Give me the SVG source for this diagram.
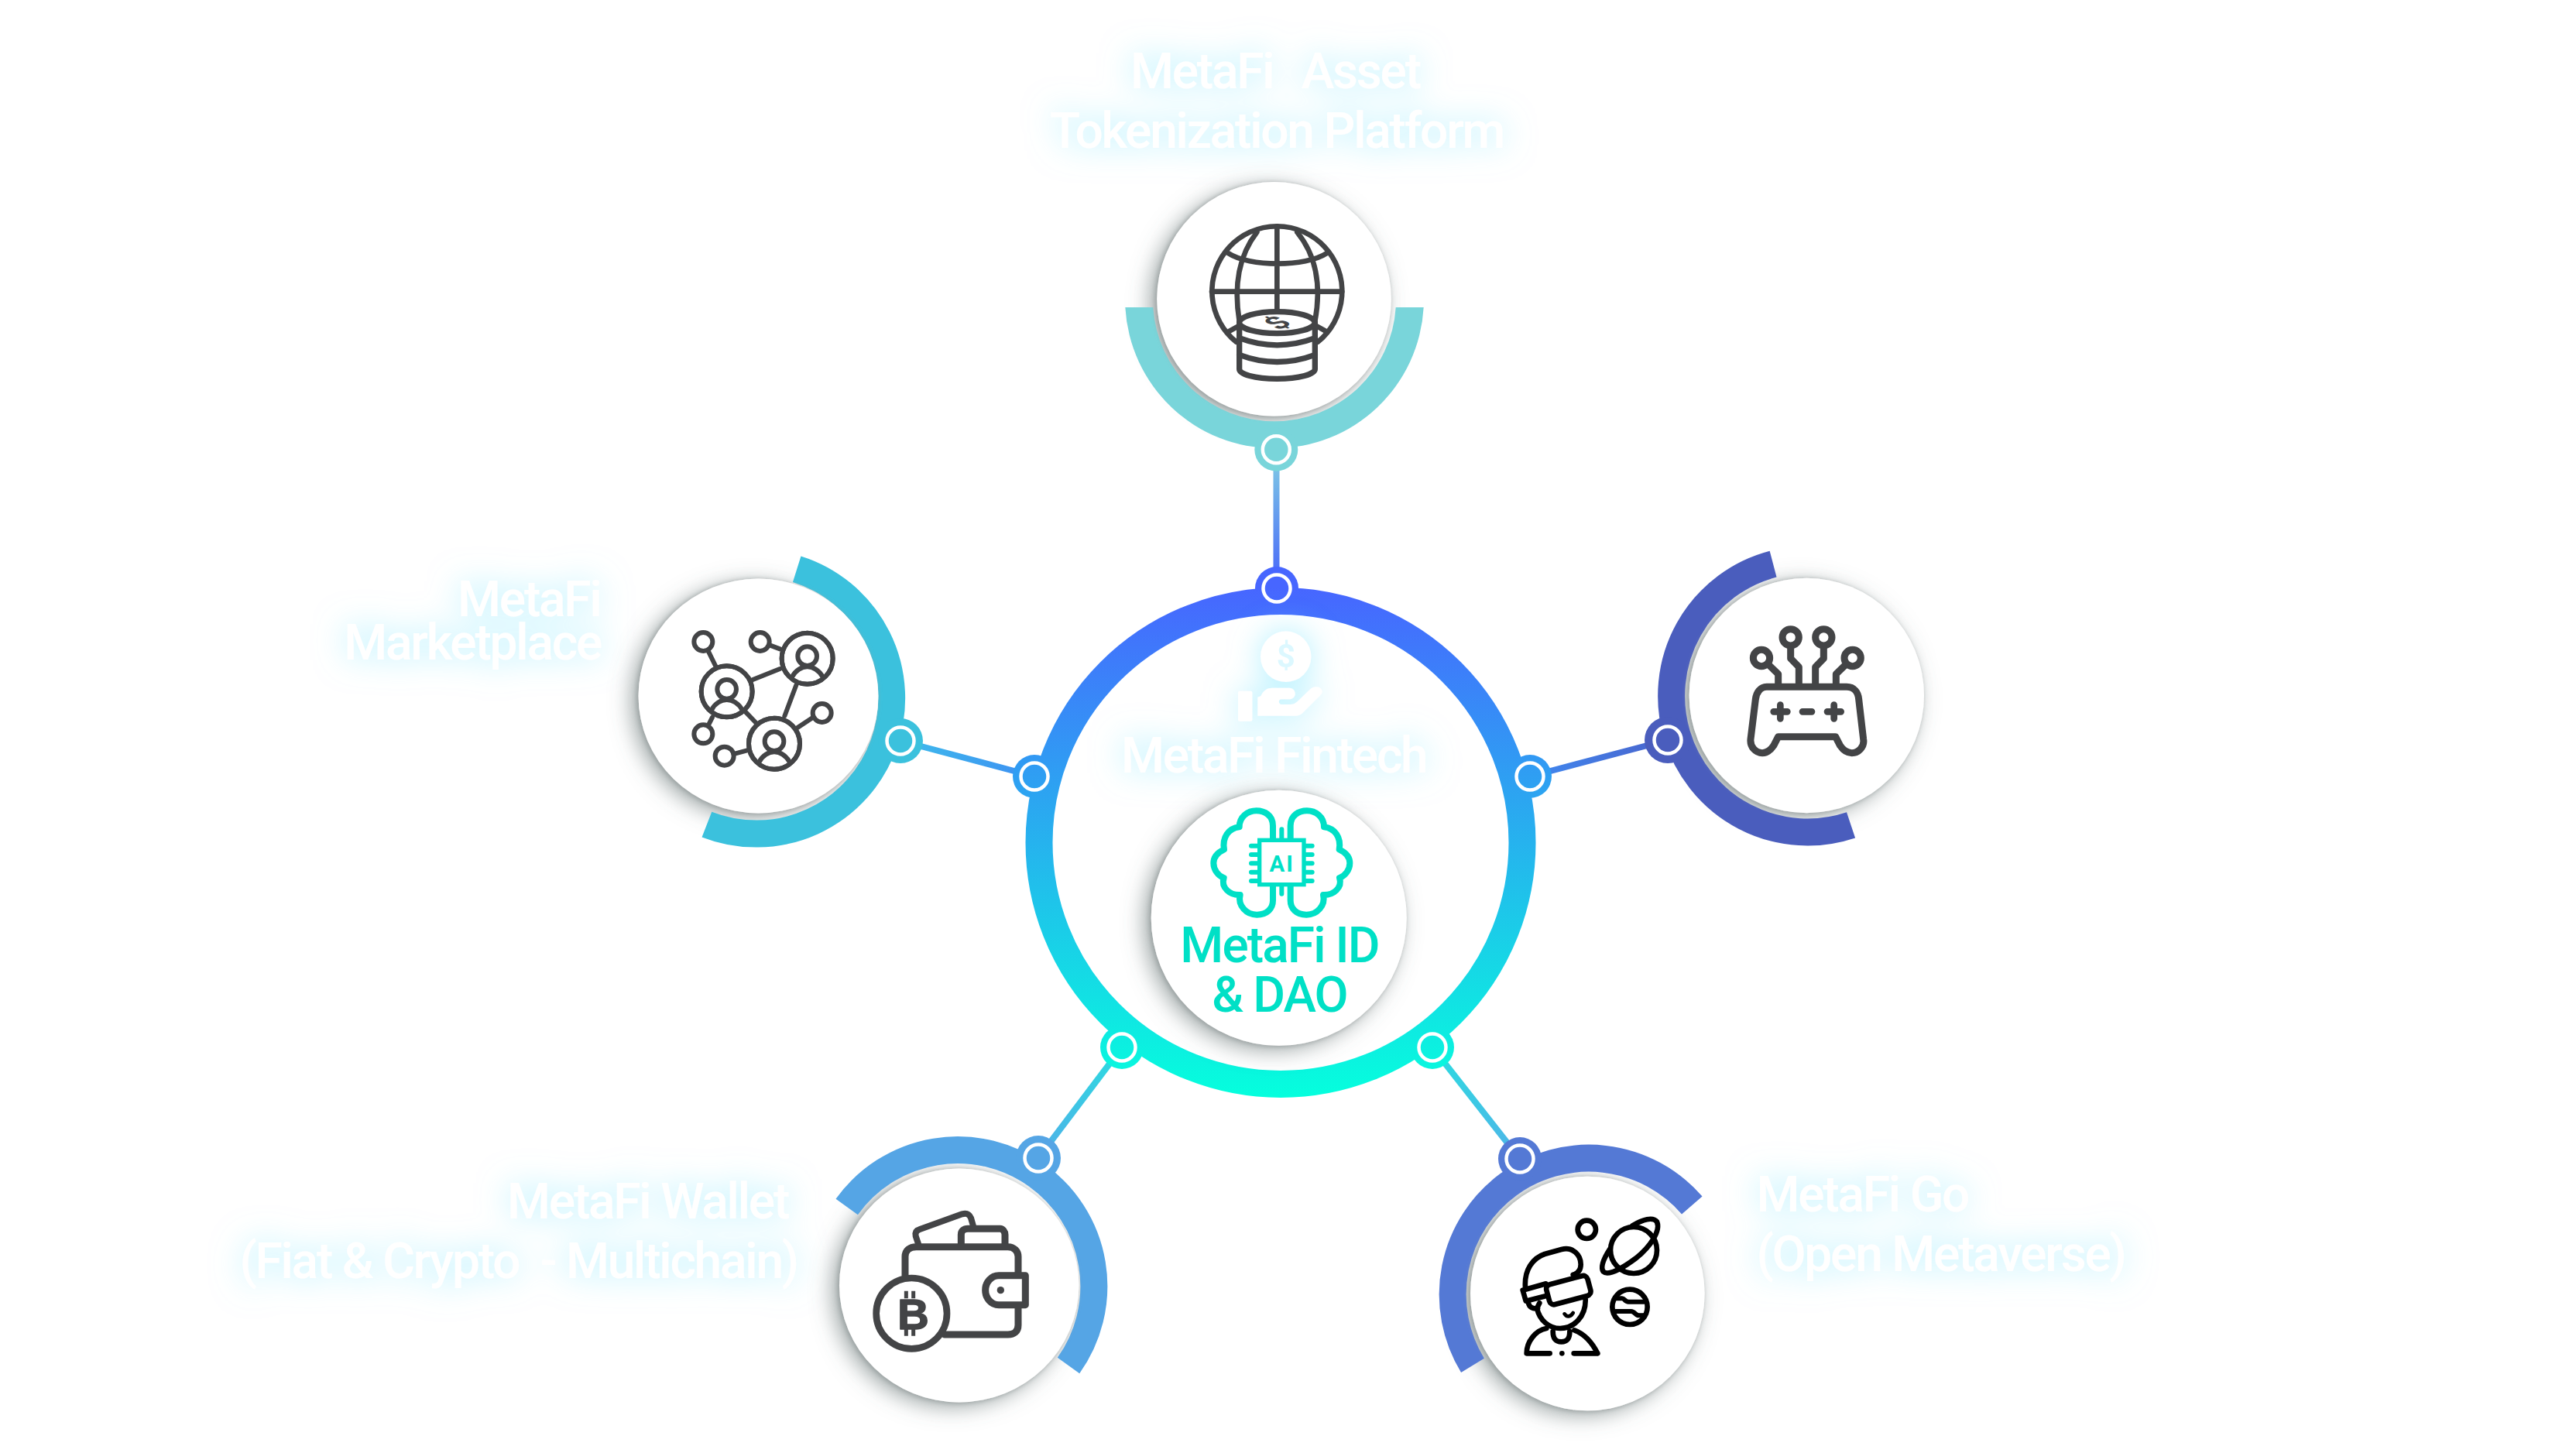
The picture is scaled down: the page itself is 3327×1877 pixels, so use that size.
<svg xmlns="http://www.w3.org/2000/svg" width="3327" height="1877" viewBox="0 0 3327 1877">
<style>
.label{font-family:Roboto,"Liberation Sans",sans-serif;font-size:64px;fill:#fff;font-weight:500;letter-spacing:-2.2px;white-space:pre}
.center{font-family:Roboto,"Liberation Sans",sans-serif;font-size:64px;fill:#00e0c6;font-weight:500;letter-spacing:-1.9px;text-anchor:middle}
.under{fill:#fff;filter:url(#shadow)}
.disc{fill:#fff;filter:url(#rim)}
.ico{fill:none;stroke:#434446;stroke-linecap:round;stroke-linejoin:round}
.vr{fill:none;stroke:#000;stroke-width:20;stroke-linecap:round;stroke-linejoin:round}
.brain{fill:none;stroke:#00e0c6;stroke-linecap:round;stroke-linejoin:round}
.arc{fill:none;stroke-width:35}
.pin{fill:none;stroke-width:8}
.ring{fill:none;stroke:#fff;stroke-width:4.5}
</style>
<defs>
<linearGradient id="mainGrad" gradientUnits="userSpaceOnUse" x1="0" y1="759" x2="0" y2="1418"><stop offset="0" stop-color="#4766ff"/><stop offset="1" stop-color="#05ffdd"/></linearGradient>
<linearGradient id="cT" gradientUnits="userSpaceOnUse" x1="1648" y1="600" x2="1648" y2="745"><stop offset="0" stop-color="#7cc5e6"/><stop offset="1" stop-color="#4a6bf8"/></linearGradient>
<linearGradient id="cL" gradientUnits="userSpaceOnUse" x1="1163" y1="957" x2="1336" y2="1003"><stop offset="0" stop-color="#3ebcec"/><stop offset="1" stop-color="#3d8ef2"/></linearGradient>
<linearGradient id="cR" gradientUnits="userSpaceOnUse" x1="2154" y1="956" x2="1976" y2="1003"><stop offset="0" stop-color="#4a64cc"/><stop offset="1" stop-color="#3f88f0"/></linearGradient>
<linearGradient id="cBL" gradientUnits="userSpaceOnUse" x1="1341" y1="1496" x2="1449" y2="1353"><stop offset="0" stop-color="#4fb0e8"/><stop offset="1" stop-color="#2bdce0"/></linearGradient>
<linearGradient id="cBR" gradientUnits="userSpaceOnUse" x1="1963" y1="1497" x2="1850" y2="1353"><stop offset="0" stop-color="#4fb4e8"/><stop offset="1" stop-color="#2bdce0"/></linearGradient>
<filter id="shadow" x="-25%" y="-25%" width="150%" height="150%">
<feDropShadow dx="-9" dy="6" stdDeviation="14" flood-color="#5f6c6c" flood-opacity=".6"/>
</filter>
<filter id="rim" x="-10%" y="-10%" width="120%" height="120%">
<feDropShadow dx="-2" dy="1" stdDeviation="3" flood-color="#979f9f" flood-opacity=".9"/>
</filter>
<filter id="glow" x="-30%" y="-80%" width="160%" height="260%">
<feGaussianBlur in="SourceAlpha" stdDeviation="20" result="b"/>
<feFlood flood-color="#7de6ff" flood-opacity=".62"/>
<feComposite in2="b" operator="in" result="g"/>
<feMerge><feMergeNode in="g"/><feMergeNode in="SourceGraphic"/></feMerge>
</filter>
<g id="person">
<circle r="99" fill="#fff"/><circle r="99"/><circle cy="-9" r="37"/>
<path d="M-59,72C-46,45-21,32 0,32C21,32 46,45 60,72"/>
</g>
</defs>
<rect width="3327" height="1877" fill="#fff"/>

<g id="connectors">
<line class="pin" x1="1648.5" y1="600" x2="1648.5" y2="745" stroke="url(#cT)"/>
<line class="pin" x1="1163" y1="957" x2="1336" y2="1003" stroke="url(#cL)"/>
<line class="pin" x1="2154" y1="956" x2="1976" y2="1003" stroke="url(#cR)"/>
<line class="pin" x1="1341" y1="1496" x2="1449" y2="1353" stroke="url(#cBL)"/>
<line class="pin" x1="1963" y1="1497" x2="1850" y2="1353" stroke="url(#cBR)"/>
</g>

<g id="main-ring">
<circle cx="1654" cy="1088.5" r="312" class="arc" stroke="url(#mainGrad)"/>
<g fill="url(#mainGrad)">
<circle cx="1649" cy="760" r="28"/><circle cx="1336" cy="1003" r="28"/><circle cx="1976" cy="1003" r="28"/><circle cx="1449" cy="1353" r="28"/><circle cx="1850" cy="1353" r="28"/>
</g>
<circle class="ring" cx="1649" cy="760" r="17.5"/><circle class="ring" cx="1336" cy="1003" r="17.5"/><circle class="ring" cx="1976" cy="1003" r="17.5"/><circle class="ring" cx="1449" cy="1353" r="17.5"/><circle class="ring" cx="1850" cy="1353" r="17.5"/>
</g>

<g id="node-fintech">
<g filter="url(#glow)">
<circle cx="1660.7" cy="848.3" r="32.7" fill="#fff"/>
<rect x="1599" y="892.7" width="18.3" height="39" rx="2" fill="#fff"/>
<g transform="translate(1440,780) scale(.33333)"><path fill="#fff" d="M553,362L565,358C575,335 590,326 610,326L675,326C692,326 700,340 698,352C696,365 685,370 675,370L645,370C632,370 632,390 645,390L680,390C692,390 700,385 708,378L760,328C775,318 795,320 802,335C805,345 800,350 790,360L725,425C715,433 705,434 695,434L553,434Z"/></g>
<text class="label" x="1448" y="998">MetaFi Fintech</text>
</g>
<text x="1660.7" y="862" text-anchor="middle" font-family="Roboto,sans-serif" font-weight="700" font-size="42" fill="#dcf8ff">$</text>
</g>

<g id="node-id">
<circle class="under" cx="1651.7" cy="1185.8" r="165"/>
<circle class="disc" cx="1651.7" cy="1185.8" r="165"/>
<g transform="translate(1480,1010) scale(.33333)">
<path class="brain" stroke-width="24" d="M492,222L492,170C492,130 460,112 428,112C395,112 362,135 362,175C320,180 295,215 303,262C275,275 262,295 262,315C262,340 280,365 302,372C290,410 325,440 365,438C355,480 390,515 430,515C470,515 492,490 492,460L492,405"/>
<path class="brain" stroke-width="24" d="M560,222L560,170C560,130 592,112 624,112C657,112 690,135 690,175C732,180 757,215 749,262C777,275 790,295 790,315C790,340 772,365 750,372C762,410 727,440 687,438C697,480 662,515 622,515C582,515 560,490 560,460L560,405"/>
<rect x="440" y="226" width="172" height="172" fill="#fff" stroke="#00e0c6" stroke-width="16"/>
<path class="brain" stroke-width="18" d="M408,248H432M408,282H432M408,316H432M408,350H432M408,384H432M620,248H644M620,282H644M620,316H644M620,350H644M620,384H644M526,184V218M526,405V434"/>
<text x="527" y="348" text-anchor="middle" font-family="Roboto,sans-serif" font-weight="700" font-size="88" letter-spacing="6" fill="#00e0c6">AI</text>
</g>
<text class="center" x="1652.5" y="1242.7">MetaFi ID</text>
<text class="center" x="1652.5" y="1306.7">&amp; DAO</text>
</g>

<g id="node-asset">
<g filter="url(#glow)">
<text class="label" x="1460" y="113.5">MetaFi  <tspan dx="9">Asset</tspan></text>
<text class="label" x="1356" y="190.5">Tokenization Platform</text>
</g>
<circle class="under" cx="1645.5" cy="386.3" r="151.3"/>
<path d="M1453.3,397A193,193 0 0 0 1838.7,397L1802.7,397A157,157 0 0 1 1489.3,397Z" fill="#79d5da"/>
<circle class="disc" cx="1645.5" cy="386.3" r="151.3"/>
<g transform="translate(1440,220) scale(.33333)" class="ico" stroke-width="20">
<path d="M470,665A252,252 0 1 1 786,665"/>
<path d="M628,218V545M375,470H880M440,322C520,375 740,375 820,322M550,240C480,330 460,450 482,585M706,240C780,330 800,450 775,585M440,625L482,602M820,625L778,602"/>
<path fill="#fff" stroke-width="22" d="M482,590L482,770C482,790 540,808 628,808C715,808 775,790 775,770L775,590Z"/>
<ellipse cx="628" cy="590" rx="146" ry="42" fill="#fff" stroke-width="22"/>
<path stroke-width="22" d="M482,650Q628,705 775,650M482,715Q628,770 775,715"/>
<text transform="translate(628,590) scale(1,.5) rotate(-45)" y="48" text-anchor="middle" font-family="Roboto,sans-serif" font-weight="700" font-size="135" fill="#434446" stroke="none">$</text>
</g>
<circle cx="1648.3" cy="580.7" r="28" fill="#79d5da"/><circle class="ring" cx="1648.3" cy="580.7" r="17.5"/>
</g>

<g id="node-marketplace">
<g filter="url(#glow)">
<text class="label" x="775.5" y="796" text-anchor="end">MetaFi</text>
<text class="label" x="776" y="851.7" text-anchor="end">Marketplace</text>
</g>
<ellipse class="under" cx="979.5" cy="899" rx="155" ry="151.5"/>
<path d="M1029.2,735.2A175,175 0 1 1 912.9,1065.1" class="arc" stroke="#3bc1dd"/>
<ellipse class="disc" cx="979.5" cy="899" rx="155" ry="151.5"/>
<g transform="translate(800,710) scale(.33333)" class="ico" stroke-width="18">
<path d="M345,395L372,450M582,370L622,385M515,505L622,462M685,525L640,645M485,625L530,672M690,690L750,650M450,790L495,778M360,650L345,680"/>
<circle cx="325" cy="357" r="36" fill="#fff"/><circle cx="545" cy="357" r="36" fill="#fff"/><circle cx="785" cy="633" r="36" fill="#fff"/><circle cx="325" cy="715" r="36" fill="#fff"/><circle cx="407" cy="800" r="36" fill="#fff"/>
<use href="#person" x="416" y="550"/><use href="#person" x="728" y="422"/><use href="#person" x="600" y="752"/>
</g>
<circle cx="1163" cy="957" r="29" fill="#3bc1dd"/><circle class="ring" cx="1163" cy="957" r="17.5"/>
</g>

<g id="node-game">
<circle class="under" cx="2333.3" cy="898.5" r="151.7"/>
<path d="M2290.09,728.68A176,176 0 1 0 2390.56,1065.83" class="arc" stroke="#4a5dbd"/>
<circle class="disc" cx="2333.3" cy="898.5" r="151.7"/>
<g transform="translate(2100,680) scale(.33333)" class="ico" stroke-width="27">
<path d="M525,510L590,572V622M638,430V512L670,545V622M766,430V512L734,545V622M878,510L814,572V622"/>
<circle cx="525" cy="510" r="32" fill="#fff"/><circle cx="638" cy="430" r="32" fill="#fff"/><circle cx="766" cy="430" r="32" fill="#fff"/><circle cx="878" cy="510" r="32" fill="#fff"/>
<path d="M545,622L855,622C885,622 900,645 902,670L920,825C925,855 900,878 875,878C855,878 840,865 830,850L812,815L590,815L572,850C562,865 548,878 528,878C503,878 480,855 483,825L502,670C505,645 520,622 545,622Z" fill="#fff"/>
<path stroke-width="26" d="M572,718H625M598,692V745M684,718H720M780,718H833M806,692V745"/>
</g>
<circle cx="2154" cy="956" r="30" fill="#4a5dbd"/><circle class="ring" cx="2154" cy="956" r="17.5"/>
</g>

<g id="node-wallet">
<g filter="url(#glow)">
<text class="label" x="1018" y="1574" text-anchor="end">MetaFi Wallet</text>
<text class="label" x="1030" y="1650.7" text-anchor="end">(Fiat &amp; Crypto  - Multichain)</text>
</g>
<ellipse class="under" cx="1238.7" cy="1660.5" rx="154.7" ry="151"/>
<path d="M1093.7,1559A176,176 0 0 1 1380,1764" class="arc" stroke="#55a5e5"/>
<ellipse class="disc" cx="1238.7" cy="1660.5" rx="154.7" ry="151"/>
<g transform="translate(1060,1460) scale(.33333)" class="ico" stroke-width="27">
<path stroke-width="24" d="M378,440L368,410C365,395 372,388 382,385L548,325C565,320 575,325 582,340L592,375"/>
<path d="M544,440V405C544,390 555,382 570,382H695C705,382 714,392 714,405V440"/>
<path d="M327,565V490C327,465 345,452 370,452H725C750,452 765,470 765,490V555M765,690V755C765,780 750,792 725,792H480"/>
<path fill="#fff" d="M793,563H690C660,563 638,590 638,620C638,650 660,677 690,677H793Z"/>
<circle cx="697" cy="620" r="14" fill="#434446" stroke="none"/>
<circle cx="352" cy="710" r="137" fill="#fff" stroke-width="26"/>
<text x="298" y="770" font-family="Liberation Sans,sans-serif" font-weight="700" font-size="168" fill="#434446" stroke="#434446" stroke-width="5">B</text>
<path stroke-linecap="butt" stroke-width="15" d="M331,623V652M359,623V652M331,768V797M359,768V797"/>
</g>
<circle cx="1341" cy="1496" r="29" fill="#55a5e5"/><circle class="ring" cx="1341" cy="1496" r="17.5"/>
</g>

<g id="node-metaverse">
<g filter="url(#glow)">
<text class="label" x="2268.5" y="1565">MetaFi Go</text>
<text class="label" x="2268.5" y="1641.7">(Open Metaverse)</text>
</g>
<circle class="under" cx="2050.3" cy="1671" r="151.3"/>
<path d="M1902,1763.9A176,176 0 0 1 2185.3,1557" class="arc" stroke="#5479d5"/>
<circle class="disc" cx="2050.3" cy="1671" r="151.3"/>
<g transform="translate(1860,1470) scale(.33333)" class="vr">
<circle cx="568" cy="355" r="35"/>
<circle cx="750" cy="435" r="90"/>
<path d="M658,430C635,465 620,500 632,518C650,535 700,510 760,465C815,420 855,360 840,325C825,305 785,315 745,340"/>
<circle cx="735" cy="655" r="68"/>
<path stroke-width="18" d="M680,622H705C715,622 715,635 730,635H790M680,672H740C755,672 755,688 770,688H790"/>
<path d="M330,580C325,510 360,465 405,450L470,432C515,420 545,455 545,490C545,510 535,525 515,530"/>
<path d="M320,590L410,565L420,610L332,632Z" fill="#fff"/>
<rect x="415" y="550" width="165" height="80" rx="18" transform="rotate(-15 497 590)" fill="#fff"/>
<path d="M342,640C345,655 360,665 378,660M385,640L375,660C385,705 420,738 465,738C520,738 565,690 563,625"/>
<path stroke-width="14" d="M482,682C490,695 505,695 515,678"/>
<path d="M335,835C335,790 370,745 412,738M520,745C560,760 590,795 610,835M335,835H425M518,835H610M437,750C437,780 450,790 470,790C490,790 502,780 502,750"/>
<circle cx="472" cy="835" r="10" fill="#000" stroke="none"/>
</g>
<circle cx="1963" cy="1497" r="28" fill="#5479d5"/><circle class="ring" cx="1963" cy="1497" r="17.5"/>
</g>
</svg>
